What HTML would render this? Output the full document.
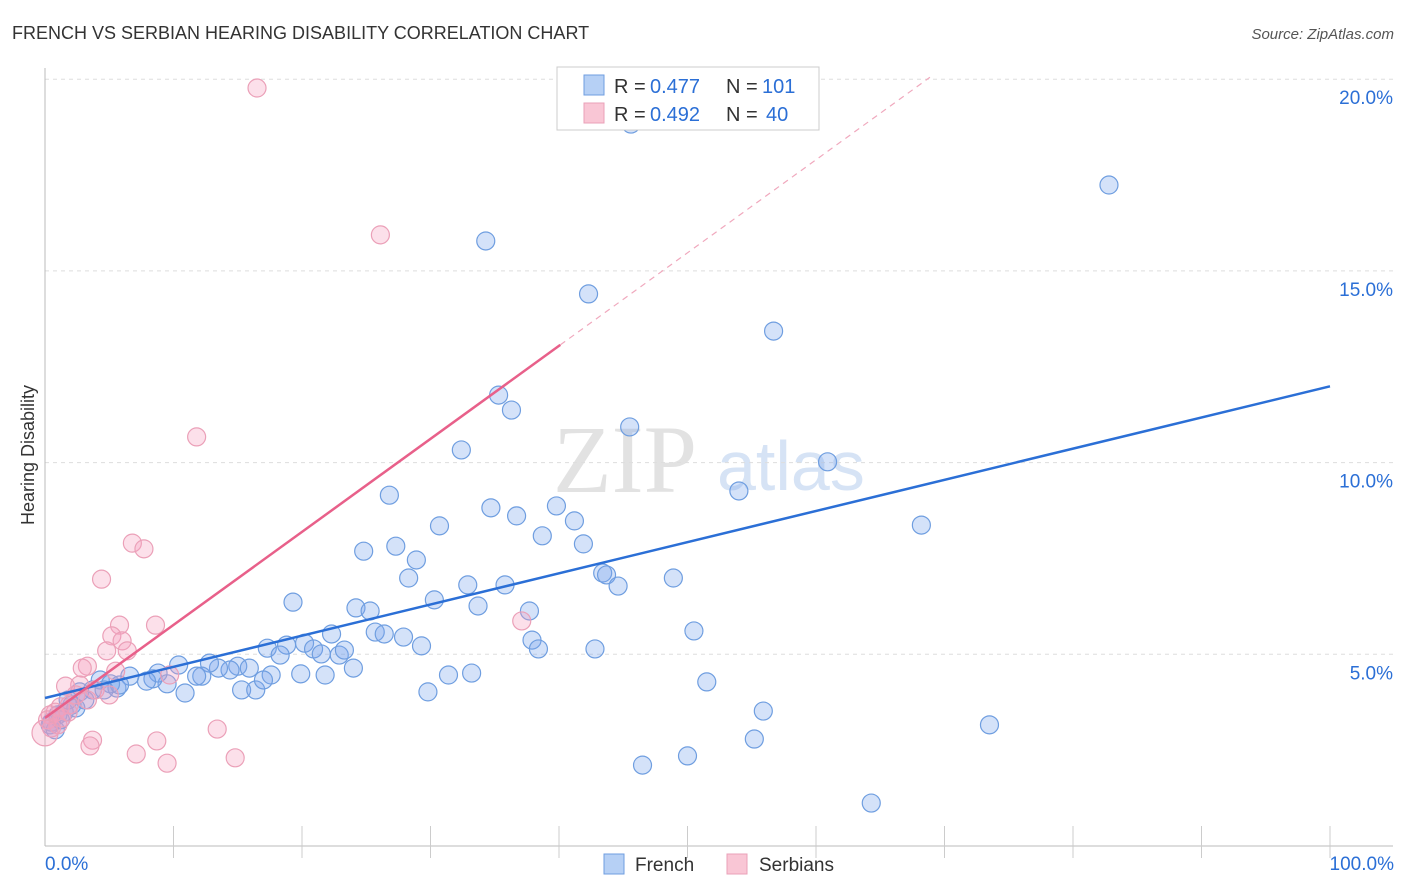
<!DOCTYPE html>
<html><head><meta charset="utf-8"><style>
body{margin:0;background:#fff;font-family:"Liberation Sans",sans-serif}
svg{display:block}
</style></head><body>
<svg id="c" width="1406" height="892">
<text x="12" y="39" font-size="18" fill="#333">FRENCH VS SERBIAN HEARING DISABILITY CORRELATION CHART</text>
<text x="1394" y="39" font-size="15" fill="#555" text-anchor="end" font-style="italic">Source: ZipAtlas.com</text>
<text transform="translate(34,455) rotate(-90)" font-size="18" fill="#333" text-anchor="middle">Hearing Disability</text>
<g><text x="553" y="492" font-size="96" fill="#e2e2e2" font-family="Liberation Serif,serif">ZIP</text><text x="717" y="490" font-size="70" fill="#d6e3f5">atlas</text></g>
<g id="grid"></g><g id="marks"></g><g id="lines"></g>
<g>
<rect x="557" y="67" width="262" height="63" fill="#fff" stroke="#ccc"/>
<rect x="584" y="75" width="20" height="20" fill="#b6d0f5" stroke="#6f9ee0"/>
<rect x="584" y="103" width="20" height="20" fill="#f9c6d5" stroke="#eaa0b8"/>
<text x="614" y="93" font-size="20" fill="#333">R =</text><text x="650" y="93" font-size="20" fill="#2b6fd6">0.477</text>
<text x="726" y="93" font-size="20" fill="#333">N =</text><text x="762" y="93" font-size="20" fill="#2b6fd6">101</text>
<text x="614" y="121" font-size="20" fill="#333">R =</text><text x="650" y="121" font-size="20" fill="#2b6fd6">0.492</text>
<text x="726" y="121" font-size="20" fill="#333">N =</text><text x="766" y="121" font-size="20" fill="#2b6fd6">40</text>
</g>
<g>
<rect x="604" y="854" width="20" height="20" fill="#b6d0f5" stroke="#6f9ee0"/>
<text x="635" y="871" font-size="19" fill="#333">French</text>
<rect x="727" y="854" width="20" height="20" fill="#f9c6d5" stroke="#eaa0b8"/>
<text x="759" y="871" font-size="19" fill="#333">Serbians</text>
</g>
</svg>
<script>
const yTicks=[5,10,15,20];
const xLabels=["0.0%","100.0%"];
const frX=[45.6,34.3,82.8,42.3,56.7,35.3,36.3,45.5,32.4,60.9,54.0,26.8,68.2,34.7,36.7,39.8,41.2,30.7,38.7,41.9,24.8,27.3,28.9,43.4,43.7,48.9,28.3,44.6,32.9,35.8,19.3,30.3,24.2,25.3,33.7,37.7,50.5,22.3,25.7,26.4,27.9,37.9,38.4,42.8,29.3,17.3,18.8,20.2,20.9,21.5,22.9,23.3,18.3,24.0,31.4,33.2,19.9,21.8,17.6,15.0,15.9,14.4,13.5,12.8,12.2,11.8,10.4,8.8,9.5,8.4,7.9,6.6,10.9,15.3,16.4,17.0,29.8,51.5,55.9,55.2,73.5,46.5,50.0,64.3,5.6,4.3,3.7,2.7,2.1,1.5,1.0,0.5,1.2,0.4,0.8,1.8,5.1,5.8,4.6,3.1,2.4];
const frY=[18.83,15.78,17.24,14.40,13.43,11.76,11.37,10.93,10.33,10.02,9.26,9.15,8.37,8.82,8.61,8.87,8.48,8.35,8.09,7.88,7.69,7.82,7.46,7.12,7.07,6.99,6.99,6.78,6.81,6.81,6.36,6.42,6.21,6.13,6.26,6.13,5.61,5.53,5.58,5.53,5.45,5.37,5.14,5.14,5.22,5.16,5.24,5.29,5.14,5.01,4.98,5.11,4.98,4.64,4.46,4.51,4.49,4.46,4.46,4.69,4.64,4.59,4.64,4.77,4.43,4.43,4.72,4.51,4.23,4.36,4.30,4.43,3.99,4.07,4.07,4.33,4.02,4.28,3.52,2.79,3.16,2.11,2.35,1.12,4.12,4.33,4.07,4.02,3.68,3.49,3.42,3.23,3.29,3.16,3.03,3.81,4.23,4.20,4.07,3.81,3.60];
const srX=[16.5,26.1,11.8,6.8,7.7,4.4,5.8,8.6,5.2,6.0,6.4,4.8,3.3,2.9,5.5,9.7,2.7,1.6,3.9,5.0,3.7,3.5,8.7,7.1,9.5,13.4,14.8,37.1,2.4,1.9,1.2,0.8,0.4,0.2,0.5,1.0,1.3,0.0,1.8,3.3];
const srY=[19.77,15.94,10.67,7.90,7.75,6.96,5.76,5.76,5.48,5.35,5.09,5.09,4.69,4.64,4.56,4.46,4.20,4.17,4.07,3.94,2.76,2.61,2.74,2.40,2.16,3.05,2.30,5.87,3.94,3.68,3.63,3.49,3.42,3.29,3.08,3.16,3.34,2.95,3.49,3.81];
const frLine=[3.86,11.99];
const srLine=[3.34,13.07,40.1];
const NS="http://www.w3.org/2000/svg";
const X=v=>45+v*12.85, Y=v=>846-v*38.34;
function mk(t,a,p){const e=document.createElementNS(NS,t);for(const k in a)e.setAttribute(k,a[k]);p.appendChild(e);return e;}
const g=document.getElementById('grid');
yTicks.forEach(t=>{
 const l=mk('line',{x1:45,x2:1393,y1:Y(t),y2:Y(t),stroke:'#ddd','stroke-dasharray':'4,4'},g);
 
 
 const tx=mk('text',{x:1393,y:Y(t)+25,'font-size':19,fill:'#2b6fd6','text-anchor':'end'},g);
 tx.textContent=t.toFixed(1)+'%';
 
 
});
const ax=mk('line',{x1:45,x2:45,y1:68,y2:846,stroke:'#bbb'},g);


const bx=mk('line',{x1:45,x2:1393,y1:846,y2:846,stroke:'#bbb'},g);


for(let i=1;i<=10;i++){const t=mk('line',{x1:X(i*10),x2:X(i*10),y1:826,y2:858,stroke:'#ccc'},g);
 
 }
[[0,'start',45],[100,'end',1394]].forEach((d,i)=>{const t=mk('text',{x:d[2],y:870,'font-size':19,fill:'#2b6fd6','text-anchor':d[1]},g);t.textContent=xLabels[i];
 
 });
const m=document.getElementById('marks');
frX.forEach((x,i)=>{const c=mk('circle',{cx:X(x),cy:Y(frY[i]),r:9,fill:'rgba(120,165,235,0.32)',stroke:'#6f9ee0','stroke-width':1.2},m);
 
 });
srX.forEach((x,i)=>{const c=mk('circle',{cx:X(x),cy:Y(srY[i]),r:i==37?13:9,fill:'rgba(245,160,190,0.32)',stroke:'#eba0b8','stroke-width':1.2},m);
 
 });
const L=document.getElementById('lines');
const fl=mk('line',{x1:X(0),y1:Y(frLine[0]),x2:X(100),y2:Y(frLine[1]),stroke:'#2b6fd6','stroke-width':2.5},L);


const sl=mk('line',{x1:X(0),y1:Y(srLine[0]),x2:X(srLine[2]),y2:Y(srLine[1]),stroke:'#e8608a','stroke-width':2.5},L);


const slope=(srLine[1]-srLine[0])/srLine[2];
const xe=(20.05-srLine[0])/slope;
const sd=mk('line',{x1:X(srLine[2]),y1:Y(srLine[1]),x2:X(xe),y2:Y(20.05),stroke:'#f0a8bd','stroke-width':1.2,'stroke-dasharray':'6,5'},L);


</script>
</body></html>
